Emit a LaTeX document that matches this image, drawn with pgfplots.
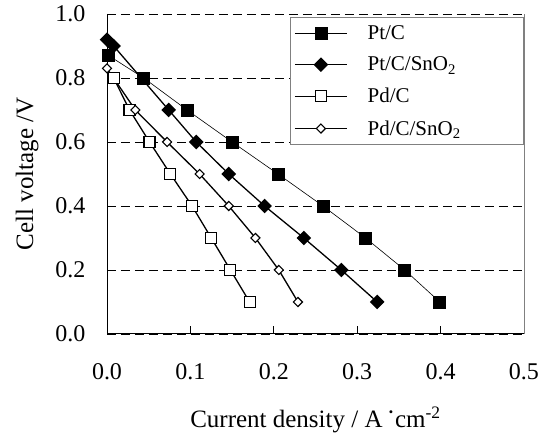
\documentclass[border=0pt]{standalone}
\usepackage{pgfplots}
\pgfplotsset{compat=1.18}
\usepackage{fontspec}
\setmainfont{Liberation Serif}

\newcommand{\lent}[1]{\makebox[150pt][l]{#1}}

\begin{document}
\begin{tikzpicture}
\begin{axis}[
    scale only axis,
    width=417pt,
    height=320pt,
    xmin=0, xmax=0.5,
    ymin=0, ymax=1.0,
    xtick={0,0.1,0.2,0.3,0.4,0.5},
    ytick={0,0.2,0.4,0.6,0.8,1.0},
    xtick pos=bottom,
    ytick pos=left,
    tick align=inside,
    major tick length=8pt,
    tick style={black, line width=0.8pt},
    /pgf/number format/assume math mode=true,
    /pgf/number format/fixed,
    /pgf/number format/fixed zerofill,
    /pgf/number format/precision=1,
    ticklabel style={font=\fontsize{24}{28}\selectfont},
    xticklabel style={yshift=-26pt},
    yticklabel style={xshift=-18pt},
    xlabel={Current density / A\,\raisebox{0.55ex}{·}cm\textsuperscript{-2}},
    ylabel={Cell voltage /V},
    label style={font=\fontsize{25}{29}\selectfont},
    xlabel style={yshift=-20pt},
    ylabel style={yshift=10pt},
    ymajorgrids=true,
    grid style={black, line width=0.8pt, dash pattern=on 9pt off 5pt},
    axis line style={draw=none},
    clip=false,
    legend style={
        at={(1,0.99)}, anchor=north east,
        draw=gray, fill=white, line width=0.8pt,
        font=\fontsize{21}{25}\selectfont,
        inner xsep=4pt, inner ysep=6pt,
        row sep=12pt,
        cells={anchor=west},
        /tikz/every odd column/.append style={column sep=18pt},
    },
    legend image code/.code={
        \draw[mark repeat=2, mark phase=2]
        plot coordinates {(0pt,0pt) (26pt,0pt) (52pt,0pt)};
    },
]
\draw[black, line width=1pt] (rel axis cs:0,1) -- (rel axis cs:0,0) -- (rel axis cs:1,0);
\draw[gray, line width=0.8pt] (rel axis cs:1,0) -- (rel axis cs:1,1);
\coordinate (bl) at (rel axis cs:-0.2566,-0.325);
\coordinate (tr) at (rel axis cs:1.0456,1.04375);

\addplot[black, line width=0.6pt, mark=square*, mark size=6pt,
         mark options={solid, fill=black}] coordinates {
    (0.002,0.87) (0.044,0.80) (0.096,0.70) (0.150,0.60) (0.205,0.50)
    (0.259,0.40) (0.310,0.30) (0.357,0.20) (0.399,0.10)
};
\addlegendentry{\lent{Pt/C}}

\addplot[black, line width=1.3pt, mark=square*, mark size=4.5pt,
         mark options={solid, fill=black, rotate=45}] coordinates {
    (0.000,0.92) (0.008,0.90) (0.074,0.70) (0.107,0.60) (0.146,0.50)
    (0.189,0.40) (0.236,0.30) (0.281,0.20) (0.324,0.10)
};
\addlegendentry{\lent{Pt/C/SnO\textsubscript{2}}}

\addplot[black, line width=1.3pt, mark=square*, mark size=5.5pt,
         mark options={solid, fill=white, line width=1.1pt}] coordinates {
    (0.008,0.80) (0.027,0.70) (0.051,0.60) (0.076,0.50) (0.102,0.40)
    (0.125,0.30) (0.148,0.20) (0.171,0.10)
};
\addlegendentry{\lent{Pd/C}}

\addplot[black, line width=1.3pt, mark=square*, mark size=3.2pt,
         mark options={solid, fill=white, line width=1.1pt, rotate=45}] coordinates {
    (0.000,0.83) (0.034,0.70) (0.072,0.60) (0.111,0.50) (0.146,0.40)
    (0.178,0.30) (0.206,0.20) (0.229,0.10)
};
\addlegendentry{\lent{Pd/C/SnO\textsubscript{2}}}
\end{axis}
\pgfresetboundingbox
\path[use as bounding box] (bl) rectangle (tr);
\end{tikzpicture}
\end{document}
